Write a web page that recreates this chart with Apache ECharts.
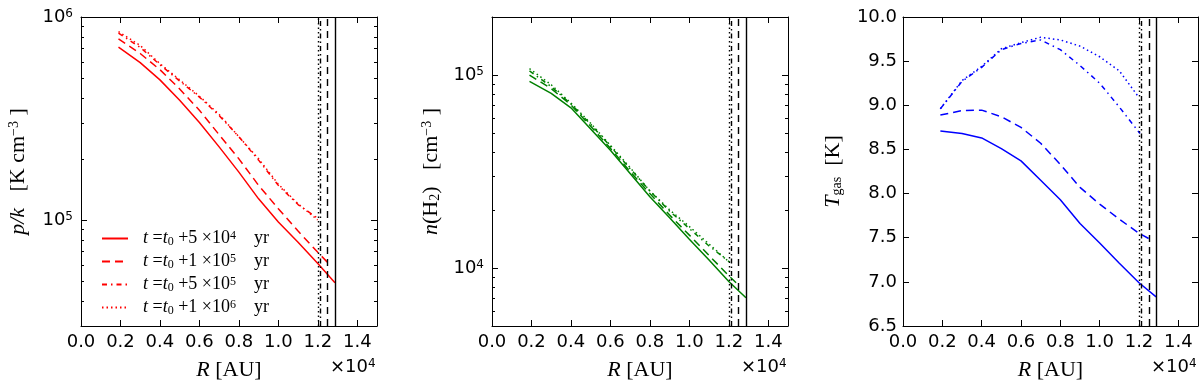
<!DOCTYPE html>
<html>
<head>
<meta charset="utf-8">
<script src="https://cdn.jsdelivr.net/npm/echarts@6/dist/echarts.min.js"></script>
<style>
html, body { margin: 0; padding: 0; background: #fff; }
#chart { width: 1200px; height: 382px; }
</style>
</head>
<body>
<div id="chart"></div>
<script>
// radius (x 10^4 AU) per run, each run stops at its own outer edge
const rSolid   = [0.19, 0.3, 0.4, 0.5, 0.6, 0.7, 0.8, 0.9, 1.0, 1.1, 1.2, 1.287];
const rDashed  = [0.19, 0.3, 0.4, 0.5, 0.6, 0.7, 0.8, 0.9, 1.0, 1.1, 1.2, 1.25];
const rDashDot = [0.19, 0.3, 0.4, 0.5, 0.6, 0.7, 0.8, 0.9, 1.0, 1.1, 1.205];
const rDotted  = [0.19, 0.3, 0.4, 0.5, 0.6, 0.7, 0.8, 0.9, 1.0, 1.1, 1.199];

// outer edges (vertical black lines): solid, dashed, dash-dot, dotted
const edgeR = [1.287, 1.25, 1.205, 1.199];

// p/k [K cm^-3]
const pkSolid   = [7.11e5, 5.96e5, 4.90e5, 3.89e5, 3.02e5, 2.29e5, 1.72e5, 1.27e5, 9.77e4, 7.76e4, 6.10e4, 4.90e4];
const pkDashed  = [7.80e5, 6.61e5, 5.50e5, 4.42e5, 3.47e5, 2.63e5, 2.00e5, 1.48e5, 1.135e5, 8.81e4, 6.92e4, 6.17e4];
const pkDashDot = [8.32e5, 7.08e5, 5.82e5, 4.84e5, 4.03e5, 3.27e5, 2.57e5, 1.97e5, 1.48e5, 1.19e5, 1.01e5];
const pkDotted  = [8.47e5, 7.24e5, 5.89e5, 4.90e5, 4.07e5, 3.31e5, 2.57e5, 2.00e5, 1.50e5, 1.20e5, 1.00e5];

// n(H2) [cm^-3]
const nSolid   = [9.27e4, 8.04e4, 6.76e4, 5.25e4, 4.07e4, 3.09e4, 2.34e4, 1.82e4, 1.41e4, 1.10e4, 8.51e3, 7.0e3];
const nDashed  = [1.00e5, 8.51e4, 7.00e4, 5.43e4, 4.17e4, 3.16e4, 2.43e4, 1.88e4, 1.48e4, 1.16e4, 9.12e3, 8.13e3];
const nDashDot = [1.05e5, 8.71e4, 7.08e4, 5.56e4, 4.27e4, 3.27e4, 2.51e4, 1.97e4, 1.60e4, 1.30e4, 1.07e4];
const nDotted  = [1.08e5, 8.91e4, 7.16e4, 5.62e4, 4.32e4, 3.31e4, 2.51e4, 2.00e4, 1.64e4, 1.33e4, 1.08e4];

// T_gas [K]
const tSolid   = [8.71, 8.68, 8.63, 8.51, 8.37, 8.15, 7.93, 7.66, 7.44, 7.21, 6.99, 6.83];
const tDashed  = [8.89, 8.94, 8.945, 8.87, 8.75, 8.57, 8.33, 8.07, 7.88, 7.71, 7.55, 7.49];
const tDashDot = [8.96, 9.27, 9.43, 9.63, 9.70, 9.74, 9.63, 9.45, 9.25, 8.98, 8.68];
const tDotted  = [8.96, 9.28, 9.44, 9.64, 9.71, 9.77, 9.74, 9.67, 9.55, 9.39, 9.09];

// ticks
const xTicks = [0, 0.2, 0.4, 0.6, 0.8, 1.0, 1.2, 1.4];
const pkMajor = [1e5, 1e6];
const pkMinor = [4e4, 5e4, 6e4, 7e4, 8e4, 9e4, 2e5, 3e5, 4e5, 5e5, 6e5, 7e5, 8e5, 9e5];
const nMajor = [1e4, 1e5];
const nMinor = [6e3, 7e3, 8e3, 9e3, 2e4, 3e4, 4e4, 5e4, 6e4, 7e4, 8e4, 9e4];

// legend text pieces
const legendCoef = ['5', '1', '5', '1'];
const legendExp = ['4', '5', '5', '6'];

const serif = 'Liberation Serif';
const sans = 'DejaVu Sans';
const rs = [rSolid, rDashed, rDashDot, rDotted];
const dashes = ['solid', [8, 5], [5, 4, 1.5, 4], [1.5, 3]];
const edgeDashes = ['solid', [7, 5], [5, 3, 1.5, 3], [1.5, 3]];

const panels = [
    { left: 81, width: 296, type: 'log', min: 3e4, max: 1e6, major: pkMajor, minor: pkMinor,
      color: '#ff0000', names: ['s1', 's2', 's3', 's4'], vals: [pkSolid, pkDashed, pkDashDot, pkDotted],
      yName: '{i|p/k}{r|   [K cm}{sup|−3}{r| ]}', nameGap: 52 },
    { left: 492, width: 296, type: 'log', min: 5e3, max: 2e5, major: nMajor, minor: nMinor,
      color: '#008000', names: ['g1', 'g2', 'g3', 'g4'], vals: [nSolid, nDashed, nDashDot, nDotted],
      yName: '{i|n}{r|(H}{sub|2}{r|)   [cm}{sup|−3}{r| ]}', nameGap: 50 },
    { left: 903, width: 295, type: 'value', min: 6.5, max: 10, major: null, minor: null,
      color: '#0000ff', names: ['b1', 'b2', 'b3', 'b4'], vals: [tSolid, tDashed, tDashDot, tDotted],
      yName: '{i|T}{gsub|gas}{r|  [K]}', nameGap: 59 }
];

const nameRich = {
    i: { fontFamily: serif, fontStyle: 'italic', fontSize: 22, color: '#000' },
    r: { fontFamily: serif, fontSize: 22, color: '#000' },
    sup: { fontFamily: serif, fontSize: 14, color: '#000', verticalAlign: 'top' },
    sub: { fontFamily: serif, fontSize: 14, color: '#000', verticalAlign: 'bottom' },
    gsub: { fontFamily: serif, fontSize: 14, color: '#000', verticalAlign: 'bottom', padding: [8, 0, 0, 0] }
};
const tickRich = {
    b: { fontFamily: sans, fontSize: 18, color: '#000' },
    sup: { fontFamily: sans, fontSize: 12, color: '#000', verticalAlign: 'top' }
};

const grid = [], xAxis = [], yAxis = [], series = [], graphic = [];
const tickStyle = { color: '#000', width: 1 };
const lineAx = { show: true, onZero: false, lineStyle: { color: '#000', width: 1 } };

// short inward minor ticks on both sides of a log axis
function minorTicks(params, api) {
    const v = api.value(1);
    const a = api.coord([0, v]);
    const b = api.coord([1.5, v]);
    const y = Math.round(a[1]) + 0.5;
    return {
        type: 'group',
        children: [
            { type: 'line', shape: { x1: a[0], y1: y, x2: a[0] + 3, y2: y }, style: { stroke: '#000', lineWidth: 1 } },
            { type: 'line', shape: { x1: b[0] - 3, y1: y, x2: b[0], y2: y }, style: { stroke: '#000', lineWidth: 1 } }
        ]
    };
}

panels.forEach((p, k) => {
    grid.push({ left: p.left, width: p.width, top: 17, height: 309, outerBoundsMode: 'none', containLabel: false });
    const xb = xAxis.length;
    xAxis.push({
        gridIndex: k, type: 'value', min: 0, max: 1.5, position: 'bottom',
        name: '{i|R}{r| [AU]}', nameLocation: 'middle', nameGap: 33,
        nameTextStyle: { rich: nameRich },
        axisLine: lineAx, splitLine: { show: false },
        axisTick: { inside: true, length: 6, lineStyle: tickStyle, customValues: xTicks },
        axisLabel: { customValues: xTicks, margin: 7, fontFamily: sans, fontSize: 18, color: '#000',
            formatter: v => v.toFixed(1) }
    });
    xAxis.push({
        gridIndex: k, type: 'value', min: 0, max: 1.5, position: 'top',
        axisLine: lineAx, splitLine: { show: false }, axisLabel: { show: false },
        axisTick: { inside: true, length: 6, lineStyle: tickStyle, customValues: xTicks }
    });
    const yl = yAxis.length;
    const isLog = p.type === 'log';
    const majorTick = isLog ? { inside: true, length: 6, lineStyle: tickStyle, customValues: p.major }
                            : { inside: true, length: 6, lineStyle: tickStyle };
    yAxis.push({
        gridIndex: k, type: p.type, min: p.min, max: p.max, position: 'left',
        interval: isLog ? undefined : 0.5,
        name: p.yName, nameLocation: 'middle', nameGap: p.nameGap,
        nameTextStyle: { rich: nameRich },
        axisLine: lineAx, splitLine: { show: false }, axisTick: majorTick,
        axisLabel: isLog
            ? { customValues: p.major, margin: 8, formatter: v => '{b|10}{sup|' + Math.round(Math.log10(v)) + '}', rich: tickRich }
            : { margin: 6, fontFamily: sans, fontSize: 18, color: '#000', formatter: v => v.toFixed(1) }
    });
    yAxis.push({
        gridIndex: k, type: p.type, min: p.min, max: p.max, position: 'right',
        interval: isLog ? undefined : 0.5,
        axisLine: lineAx, splitLine: { show: false }, axisLabel: { show: false }, axisTick: majorTick
    });
    if (isLog) {
        series.push({
            name: 'minor' + k, type: 'custom', xAxisIndex: xb, yAxisIndex: yl, silent: true, z: 5,
            data: p.minor.map(v => [0, v]), renderItem: minorTicks
        });
    }
    p.vals.forEach((vals, j) => {
        const s = {
            name: p.names[j], type: 'line', xAxisIndex: xb, yAxisIndex: yl,
            data: vals.map((v, i) => [rs[j][i], v]),
            symbol: 'none', smooth: false, z: 3,
            lineStyle: { color: p.color, width: 1.5, type: dashes[j] },
            itemStyle: { color: p.color }
        };
        if (j === 0) {
            s.markLine = {
                silent: true, symbol: ['none', 'none'], label: { show: false }, animation: false,
                lineStyle: { color: '#000', width: 1.4 },
                data: edgeR.map((x, i) => ({ xAxis: x, lineStyle: { color: '#000', width: 1.4, type: edgeDashes[i] } }))
            };
        }
        series.push(s);
    });
    graphic.push({
        type: 'text', left: p.left + p.width - 47, top: 358,
        style: { text: '{r|×10}{sup|4}', rich: {
            r: { fontFamily: sans, fontSize: 18, color: '#000' },
            sup: { fontFamily: sans, fontSize: 12, color: '#000', verticalAlign: 'top' } } }
    });
});

const legRich = {
    i: { fontFamily: serif, fontStyle: 'italic', fontSize: 18, color: '#000' },
    r: { fontFamily: serif, fontSize: 18, color: '#000' },
    sub: { fontFamily: serif, fontSize: 12, color: '#000', verticalAlign: 'bottom' },
    sup: { fontFamily: serif, fontSize: 12, color: '#000', verticalAlign: 'top' }
};

const chart = echarts.init(document.getElementById('chart'), null, { renderer: 'canvas' });
chart.setOption({
    animation: false,
    backgroundColor: '#fff',
    grid: grid,
    xAxis: xAxis,
    yAxis: yAxis,
    series: series,
    graphic: graphic,
    legend: {
        data: panels[0].names, orient: 'vertical', left: 96, top: 224.5,
        itemWidth: 26, itemHeight: 4, itemGap: 5,
        itemStyle: { opacity: 0 },
        textStyle: { padding: [0, 0, 0, 10], rich: legRich },
        formatter: name => {
            const i = panels[0].names.indexOf(name);
            return '{i|t}{r| =}{i|t}{sub|0}{r| +' + legendCoef[i] + ' ×10}{sup|' + legendExp[i] + '}{r|    yr}';
        }
    }
});
</script>
</body>
</html>
